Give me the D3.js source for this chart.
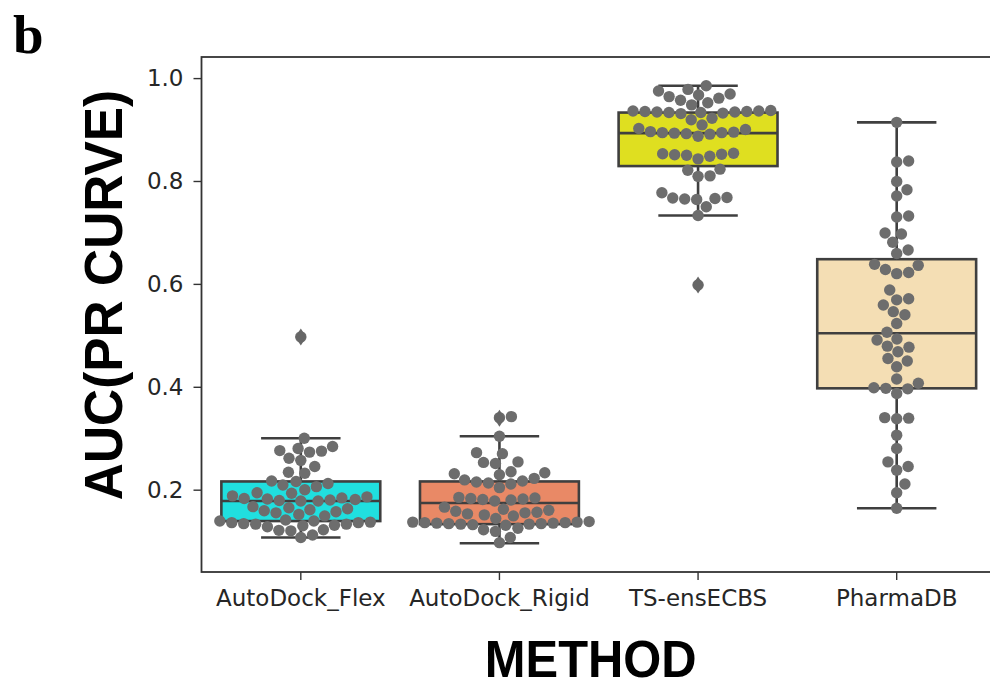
<!DOCTYPE html>
<html>
<head>
<meta charset="utf-8">
<script src="https://cdn.jsdelivr.net/npm/d3@7"></script>
<style>
  body { margin: 0; background: #fff; }
  svg { display: block; }
</style>
</head>
<body>
<svg width="990" height="682"></svg>
<script>
// data
const methods = ["AutoDock_Flex", "AutoDock_Rigid", "TS-ensECBS", "PharmaDB"];
const q1 = [0.139, 0.133, 0.829, 0.397];
const medians = [0.178, 0.174, 0.893, 0.504];
const q3 = [0.216, 0.216, 0.933, 0.648];
const whiskerLow = [0.107, 0.096, 0.733, 0.164];
const whiskerHigh = [0.300, 0.304, 0.985, 0.914];
const outliers = [[0.497], [0.339], [0.598], []];
const yTicks = [0.2, 0.4, 0.6, 0.8, 1.0];

const flexPoints = [0.497, 0.300, 0.284, 0.280, 0.276, 0.275, 0.273, 0.261, 0.257, 0.245,
  0.234, 0.232, 0.217, 0.216, 0.212, 0.209, 0.206, 0.200, 0.194, 0.193,
  0.188, 0.186, 0.184, 0.183, 0.182, 0.181, 0.180, 0.179, 0.178, 0.178,
  0.167, 0.165, 0.163, 0.161, 0.159, 0.157, 0.155, 0.152, 0.149,
  0.141, 0.139, 0.139, 0.137, 0.136, 0.136, 0.134, 0.133, 0.133, 0.131, 0.130, 0.128,
  0.122, 0.121, 0.120, 0.112, 0.107];
const rigidPoints = [0.342, 0.340, 0.304, 0.272, 0.270, 0.254, 0.253, 0.251,
  0.235, 0.233, 0.231, 0.229, 0.222, 0.219, 0.217, 0.215, 0.213, 0.211, 0.204,
  0.185, 0.184, 0.183, 0.182, 0.181, 0.180, 0.178, 0.166,
  0.162, 0.160, 0.158, 0.156, 0.155, 0.153, 0.151, 0.149, 0.144,
  0.138, 0.137, 0.137, 0.136, 0.136, 0.135, 0.135, 0.134, 0.134, 0.133, 0.133, 0.132, 0.131,
  0.125, 0.122, 0.119, 0.107, 0.097];
const tsPoints = [0.985, 0.978, 0.975, 0.969, 0.967, 0.964, 0.961, 0.957, 0.952, 0.948,
  0.937, 0.936, 0.936, 0.935, 0.935, 0.934, 0.934, 0.933, 0.933, 0.932, 0.931,
  0.922, 0.919, 0.909,
  0.902, 0.900, 0.896, 0.895, 0.894, 0.894, 0.893, 0.892, 0.891, 0.887,
  0.854, 0.853, 0.852, 0.851, 0.850, 0.848, 0.843,
  0.823, 0.821, 0.810, 0.809,
  0.777, 0.768, 0.767, 0.766, 0.765, 0.764, 0.750, 0.733, 0.598];
const pharmaPoints = [0.914, 0.839, 0.837, 0.799, 0.783, 0.771, 0.732, 0.730, 0.699, 0.697,
  0.681, 0.666, 0.659, 0.638, 0.636, 0.628, 0.622, 0.620, 0.588, 0.571, 0.569, 0.559,
  0.546, 0.540, 0.523, 0.506, 0.493, 0.491, 0.479, 0.477, 0.468, 0.455, 0.450, 0.439,
  0.415, 0.407, 0.398, 0.397, 0.396, 0.387, 0.340, 0.339, 0.338,
  0.306, 0.280, 0.254, 0.245, 0.238, 0.211, 0.194, 0.164];
const pointSets = [flexPoints, rigidPoints, tsPoints, pharmaPoints];

const svg = d3.select("svg");
const plotLeft = 201.5, plotRight = 996, plotTop = 57, plotBottom = 572;

const x = d3.scaleBand().domain(methods).range([plotLeft, plotRight])
  .paddingInner(0.2).paddingOuter(0.1);
const y = d3.scaleLinear().domain([0.04, 1.041]).range([plotBottom, plotTop]);
const fillColor = d3.scaleOrdinal(methods, ["#20dfdf", "#e98966", "#dfdf20", "#f4deb4"]);
const lineColor = "#3f3f3f";

// y axis
const yAxis = svg.append("g")
  .attr("transform", `translate(${plotLeft},0)`)
  .call(d3.axisLeft(y).tickValues(yTicks).tickFormat(d3.format(".1f")).tickSize(8).tickPadding(10));
// x axis
const xAxis = svg.append("g")
  .attr("transform", `translate(0,${plotBottom})`)
  .call(d3.axisBottom(x).tickSize(8).tickPadding(10));
[yAxis, xAxis].forEach(g => {
  g.select(".domain").remove();
  g.selectAll(".tick line").attr("stroke", "#333").attr("stroke-width", 1.4);
  g.selectAll(".tick text")
    .attr("fill", "#262626")
    .style("font-family", "'DejaVu Sans', sans-serif")
    .style("font-size", "23px");
});

// boxes
const bw = x.bandwidth();
const boxes = svg.append("g");
methods.forEach((m, i) => {
  const cx = x(m) + bw / 2;
  boxes.append("rect")
    .attr("x", x(m)).attr("width", bw)
    .attr("y", y(q3[i])).attr("height", y(q1[i]) - y(q3[i]))
    .attr("fill", fillColor(m))
    .attr("stroke", lineColor).attr("stroke-width", 2.6);
  const segs = [
    [cx, y(q3[i]), cx, y(whiskerHigh[i])],
    [cx, y(q1[i]), cx, y(whiskerLow[i])],
    [cx - bw / 4, y(whiskerHigh[i]), cx + bw / 4, y(whiskerHigh[i])],
    [cx - bw / 4, y(whiskerLow[i]), cx + bw / 4, y(whiskerLow[i])],
    [x(m), y(medians[i]), x(m) + bw, y(medians[i])]
  ];
  segs.forEach(s => boxes.append("line")
    .attr("x1", s[0]).attr("y1", s[1]).attr("x2", s[2]).attr("y2", s[3])
    .attr("stroke", lineColor).attr("stroke-width", 2.6));
});

// swarm layout: place each point (sorted by value) at the offset closest to the centre
function swarm(values, cx, d) {
  const pts = values.map(v => ({ v, py: y(v) })).sort((a, b) => a.v - b.v);
  const placed = [];
  pts.forEach(p => {
    const near = placed.filter(q => Math.abs(q.py - p.py) < d);
    const cands = [0];
    near.forEach(q => {
      const dx = Math.sqrt(d * d - (q.py - p.py) ** 2);
      cands.push(q.dx + dx, q.dx - dx);
    });
    cands.sort((a, b) => Math.abs(a) - Math.abs(b));
    p.dx = cands.find(c => near.every(q => (q.dx - c) ** 2 + (q.py - p.py) ** 2 >= d * d - 0.01));
    placed.push(p);
  });
  return pts.map(p => ({ x: cx + p.dx, y: p.py }));
}

const dots = svg.append("g");
methods.forEach((m, i) => {
  const cx = x(m) + bw / 2;
  dots.selectAll(null)
    .data(swarm(pointSets[i], cx, 12))
    .join("circle")
    .attr("cx", d => d.x).attr("cy", d => d.y)
    .attr("r", 5.7)
    .attr("fill", "#6d6d6d");
});

// fliers
const fliers = svg.append("g");
methods.forEach((m, i) => {
  const cx = x(m) + bw / 2;
  fliers.selectAll(null)
    .data(outliers[i])
    .join("path")
    .attr("d", d => `M${cx},${y(d) - 8.5}L${cx + 5.5},${y(d)}L${cx},${y(d) + 8.5}L${cx - 5.5},${y(d)}Z`)
    .attr("fill", "#666");
});

// frame
svg.append("rect")
  .attr("x", plotLeft).attr("y", plotTop)
  .attr("width", plotRight - plotLeft).attr("height", plotBottom - plotTop)
  .attr("fill", "none").attr("stroke", "#333").attr("stroke-width", 1.8);

// labels
svg.append("text")
  .attr("transform", `translate(${(plotLeft + plotRight) / 2 - 8},677) scale(0.94,1)`)
  .attr("text-anchor", "middle")
  .style("font-family", "'Liberation Sans', Arial, sans-serif")
  .style("font-weight", "bold").style("font-size", "52px")
  .attr("fill", "#000")
  .text("METHOD");

svg.append("text")
  .attr("transform", `translate(122,295) rotate(-90) scale(0.97,1)`)
  .attr("text-anchor", "middle")
  .style("font-family", "'Liberation Sans', Arial, sans-serif")
  .style("font-weight", "bold").style("font-size", "53px")
  .attr("fill", "#000")
  .text("AUC(PR CURVE)");

svg.append("text")
  .attr("x", 13).attr("y", 53)
  .style("font-family", "'Liberation Serif', 'Times New Roman', serif")
  .style("font-weight", "bold").style("font-size", "55px")
  .attr("fill", "#000")
  .text("b");
</script>
</body>
</html>
